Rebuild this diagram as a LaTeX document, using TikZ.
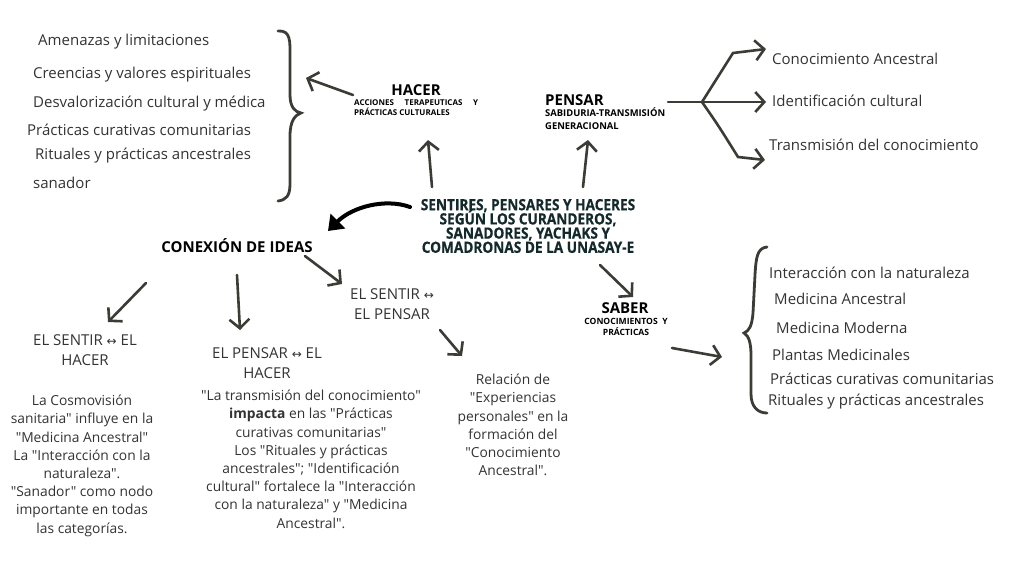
\documentclass[tikz,border=0pt]{standalone}
\usepackage{fontspec}
\setmainfont{Open Sans}[Ligatures=TeXOff]
\newfontfamily\titlefont{Open Sans}[FakeStretch=0.88,FakeBold=0.5,Ligatures=TeXOff]
\newfontfamily\symfont{DejaVu Sans}
\usetikzlibrary{arrows.meta}
\definecolor{arr}{HTML}{3C3C37}
\definecolor{txt}{HTML}{333333}
\definecolor{ttl}{HTML}{13292B}
\newcommand{\lr}{{\symfont\fontsize{12}{12}\selectfont\char"2194}}
\newcommand{\tightlines}{\lineskiplimit=-20pt\relax\lineskip=0pt\relax}
\begin{document}
\begin{tikzpicture}[x=1pt,y=-1pt,
  item/.style={anchor=west,inner sep=0pt,font=\fontsize{15}{17}\selectfont,text=txt},
  lbl/.style={inner sep=0pt,align=center,font=\fontsize{15}{20}\selectfont,text=txt},
  para/.style={inner sep=0pt,align=center,font=\fontsize{13.8}{18.2}\selectfont,text=txt},
  head/.style={inner sep=0pt,font=\fontsize{15}{16}\selectfont\bfseries,text=black},
  sub/.style={inner sep=0pt,align=left,font=\fontsize{8}{10}\selectfont\bfseries,text=black},
  ttlline/.style={inner sep=0pt,text=ttl,font=\titlefont\fontsize{15.5}{14}\selectfont\bfseries},
  conn/.style={draw=arr,line width=2.6pt,line cap=round,-{Straight Barb[length=9pt,width=20pt]}},
  plain/.style={draw=arr,line width=2.6pt,line cap=round},
  brace/.style={draw=arr,line width=2.8pt,line cap=round}
]
\useasboundingbox[fill=white] (0,0) rectangle (1017,570);

% ---- central title
\node[inner sep=0pt,align=center,text=ttl,font=\titlefont\fontsize{15.5}{14.2}\selectfont\tightlines\bfseries] (title) at (528,226)
  {SENTIRES, PENSARES Y HACERES\\SEGÚN LOS CURANDEROS,\\SANADORES, YACHAKS Y\\COMADRONAS DE LA UNASAY-E};

% ---- HACER
\node[head] (hacer) at (416,90) {HACER};
\node[sub,anchor=north west] (hacersub) at (354,99)
  {\makebox[124pt][s]{ACCIONES\hfill TERAPEUTICAS\hfill Y}\\PRÁCTICAS CULTURALES};

% ---- PENSAR
\node[head,anchor=west] (pensar) at (545,100) {PENSAR};
\node[sub,anchor=north west,font=\fontsize{9.4}{13}\selectfont\bfseries] (pensarsub) at (545,108)
  {SABIDURIA-TRANSMISIÓN\\GENERACIONAL};

% ---- SABER
\node[head] (saber) at (625,308) {SABER};
\node[sub,align=center,anchor=north,font=\fontsize{8.6}{11}\selectfont\bfseries] (sabersub) at (626,318)
  {CONOCIMIENTOS\ \ Y\\PRÁCTICAS};

% ---- CONEXION
\node[head] (conexion) at (237,246) {CONEXIÓN DE IDEAS};

% ---- HACER list
\node[item] (a1) at (38,42) {Amenazas y limitaciones};
\node[item] (a2) at (33,75) {Creencias y valores espirituales};
\node[item] (a3) at (33,104) {Desvalorización cultural y médica};
\node[item] (a4) at (27,130) {Prácticas curativas comunitarias};
\node[item] (a5) at (35,156) {Rituales y prácticas ancestrales};
\node[item] (a6) at (33,183) {sanador};

% ---- PENSAR list
\node[item] (b1) at (772,59) {Conocimiento Ancestral};
\node[item] (b2) at (772,101) {Identificación cultural};
\node[item] (b3) at (769,145) {Transmisión del conocimiento};

% ---- SABER list
\node[item] (c1) at (769,273) {Interacción con la naturaleza};
\node[item] (c2) at (774,299) {Medicina Ancestral};
\node[item] (c3) at (776,328) {Medicina Moderna};
\node[item] (c4) at (772,355) {Plantas Medicinales};
\node[item] (c5) at (770,379) {Prácticas curativas comunitarias};
\node[item] (c6) at (768,402) {Rituales y prácticas ancestrales};

% ---- relation labels
\node[lbl] (sh) at (85,350) {EL SENTIR \lr{} EL\\HACER};
\node[lbl] (ph) at (267,363) {EL PENSAR \lr{} EL\\HACER};
\node[lbl] (sp) at (392,304) {EL SENTIR \lr\\EL PENSAR};

% ---- paragraphs
\node[para,anchor=north] (p1) at (82,395)
  {La Cosmovisión\\sanitaria" influye en la\\"Medicina Ancestral"\\La "Interacción con la\\naturaleza".\\"Sanador" como nodo\\importante en todas\\las categorías.};
\node[para,anchor=north] (p2) at (311,390)
  {"La transmisión del conocimiento"\\\textbf{impacta} en las "Prácticas\\curativas comunitarias"\\Los "Rituales y prácticas\\ancestrales"; "Identificación\\cultural" fortalece la "Interacción\\con la naturaleza" y "Medicina\\Ancestral".};
\node[para,anchor=north] (p3) at (513,374)
  {Relación de\\"Experiencias\\personales" en la\\formación del\\"Conocimiento\\Ancestral".};

% ---- braces
\draw[brace] (278,31) .. controls (291,30) and (290,42) .. (290,56) -- (290,95)
  .. controls (290,107) and (295,112) .. (301,113)
  .. controls (295,115) and (290,121) .. (290,136) -- (290,184)
  .. controls (290,196) and (286,200) .. (278,201);
\draw[brace] (767,247) .. controls (757,248) and (756,258) .. (755,275) -- (753,313)
  .. controls (752,326) and (749,331) .. (744,333)
  .. controls (749,336) and (751,343) .. (751,356) -- (751,394)
  .. controls (751,407) and (758,413) .. (767,413);

% ---- arrow coordinates
\coordinate (hA) at (353,95);   \coordinate (hB) at (306,78);
\coordinate (u1a) at (432,187); \coordinate (u1b) at (428,140);
\coordinate (u2a) at (583,187); \coordinate (u2b) at (588,140);
\coordinate (pA) at (668,102);  \coordinate (pJ) at (702,102);
\coordinate (pU) at (733,53);   \coordinate (pUe) at (766,49);
\coordinate (pMe) at (766,102);
\coordinate (pL) at (738,157);  \coordinate (pLe) at (765,160);
\coordinate (k1) at (410,207);  \coordinate (k2) at (328,231);
\coordinate (x1a) at (146,283); \coordinate (x1b) at (108,322);
\coordinate (x2a) at (237,275); \coordinate (x2b) at (240,330);
\coordinate (x3a) at (305,256); \coordinate (x3b) at (342,284);
\coordinate (s1a) at (440,330); \coordinate (s1b) at (462,356);
\coordinate (t1a) at (600,265); \coordinate (t1b) at (633,297);
\coordinate (t2a) at (672,348); \coordinate (t2b) at (722,357);

% ---- arrows
\draw[conn] (hA) -- (hB);
\draw[conn] (u1a) -- (u1b);
\draw[conn] (u2a) -- (u2b);
\draw[plain] (pA) -- (pJ);
\draw[conn] (pJ) -- (pU) -- (pUe);
\draw[conn] (pJ) -- (pMe);
\draw[conn] (pJ) .. controls (718,125) .. (pL) -- (pLe);
\draw[black,line width=4pt,line cap=round,-{Triangle[length=14pt,width=20pt]}]
  (k1) .. controls (385,198) and (352,207) .. (k2);
\draw[conn] (x1a) -- (x1b);
\draw[conn] (x2a) -- (x2b);
\draw[conn] (x3a) -- (x3b);
\draw[conn] (s1a) -- (s1b);
\draw[conn] (t1a) -- (t1b);
\draw[conn] (t2a) -- (t2b);
\end{tikzpicture}
\end{document}
